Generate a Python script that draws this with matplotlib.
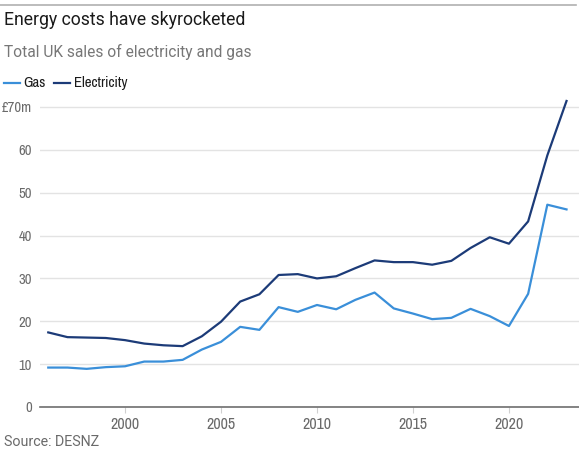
import matplotlib
matplotlib.use("Agg")
import matplotlib.pyplot as plt
from matplotlib import font_manager

years = list(range(1996, 2024))
electricity = [17.4, 16.3, 16.2, 16.1, 15.6, 14.8, 14.4, 14.2, 16.5, 19.9,
               24.6, 26.3, 30.8, 31.0, 30.0, 30.5, 32.4, 34.2, 33.8, 33.8,
               33.2, 34.1, 37.1, 39.6, 38.1, 43.3, 58.7, 71.4]
gas = [9.2, 9.2, 8.9, 9.3, 9.5, 10.6, 10.6, 11.0, 13.4, 15.2,
       18.7, 18.0, 23.3, 22.2, 23.8, 22.8, 25.0, 26.7, 23.0, 21.8,
       20.5, 20.8, 22.9, 21.2, 18.9, 26.4, 47.2, 46.1]
y_ticks = [0, 10, 20, 30, 40, 50, 60, 70]
y_labels = ["0", "10", "20", "30", "40", "50", "60", "£70m"]
x_ticks = [2000, 2005, 2010, 2015, 2020]

# look for a condensed face, otherwise plain Roboto
names = sorted({f.name for f in font_manager.fontManager.ttflist})
narrow = 'Roboto'
for n in names:
    if 'Condensed' in n or 'Narrow' in n:
        narrow = n
        break
plt.rcParams['font.family'] = ['Roboto', 'DejaVu Sans']

GAS_C = '#3a8fd9'
ELEC_C = '#1c3b78'
W, H = 579, 454

fig = plt.figure(figsize=(W / 100, H / 100), dpi=100)
ax = fig.add_axes([40 / W, 1 - 407 / H, (579 - 40) / W, (407 - 98.4) / H])

ax.plot(years, gas, color=GAS_C, lw=1.6, label='Gas')
ax.plot(years, electricity, color=ELEC_C, lw=1.6, label='Electricity', clip_on=False)

ax.set_xlim(1995.57, 2023.65)
ax.set_ylim(0, 72)
ax.set_yticks(y_ticks)
ax.set_yticklabels(y_labels)
ax.set_xticks(x_ticks)
ax.grid(axis='y', color='#e3e3e3', lw=1)
ax.set_axisbelow(True)
for s in ['top', 'right', 'left']:
    ax.spines[s].set_visible(False)
ax.spines['bottom'].set_color('#6e6e6e')
ax.spines['bottom'].set_linewidth(1.2)
ax.tick_params(axis='y', length=0, pad=6, labelcolor='#6a6a6a', labelsize=10.5)
ax.tick_params(axis='x', length=4, color='#d0d0d0', pad=3, labelcolor='#6a6a6a', labelsize=11.5)
for lab in ax.get_xticklabels() + ax.get_yticklabels():
    lab.set_fontfamily([narrow, 'DejaVu Sans'])

# header
fig.add_artist(plt.Line2D([0, 576 / W], [1 - 5 / H, 1 - 5 / H], color='#b0b0b0', lw=1.2))
fig.text(4 / W, 1 - 20 / H, 'Energy costs have skyrocketed', fontsize=12.7,
         color='#1a1a1a', va='center', ha='left')
fig.text(4 / W, 1 - 52 / H, 'Total UK sales of electricity and gas', fontsize=11.2,
         color='#777777', va='center', ha='left')

# legend
ly = 1 - 83 / H
fig.add_artist(plt.Line2D([4 / W, 20 / W], [ly, ly], color=GAS_C, lw=1.6))
fig.text(23 / W, ly, 'Gas', fontsize=10.7, color='#1a1a1a', va='center', ha='left',
         family=[narrow, 'DejaVu Sans'])
fig.add_artist(plt.Line2D([54 / W, 70 / W], [ly, ly], color=ELEC_C, lw=1.6))
fig.text(74 / W, ly, 'Electricity', fontsize=10.7, color='#1a1a1a', va='center', ha='left',
         family=[narrow, 'DejaVu Sans'])

fig.text(4 / W, 1 - 442 / H, 'Source: DESNZ', fontsize=10.3, color='#6a6a6a',
         va='center', ha='left')

fig.savefig('out.png', dpi=100)
